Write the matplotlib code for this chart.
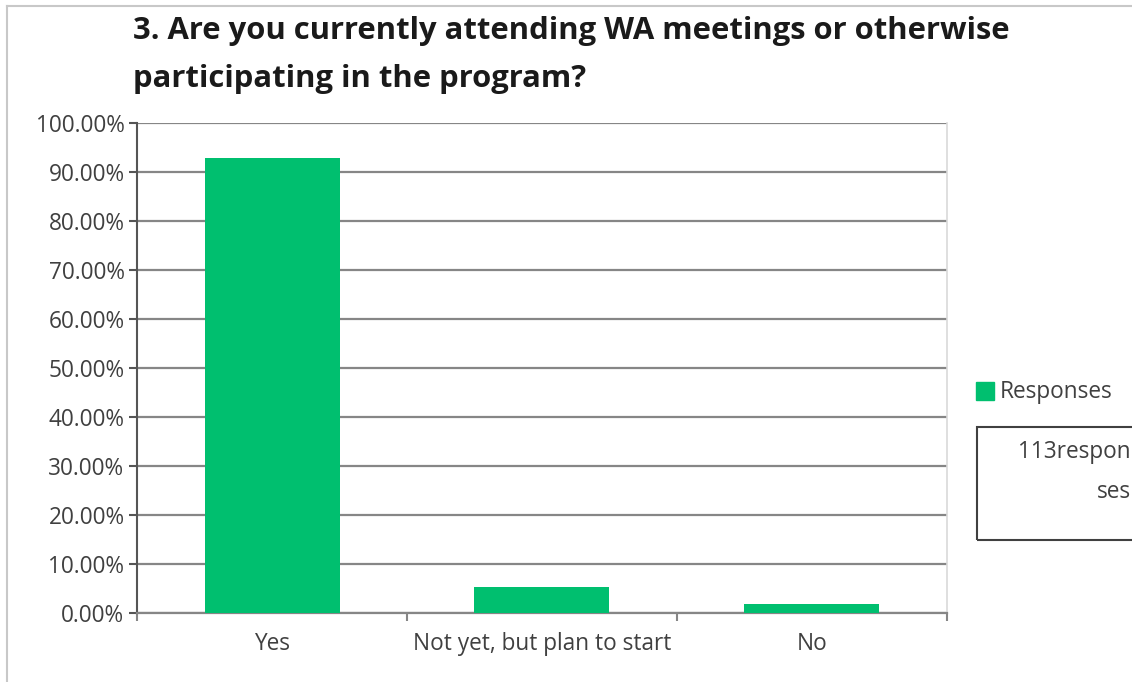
import matplotlib.pyplot as plt
from matplotlib.patches import Rectangle
from matplotlib.ticker import FixedLocator, NullFormatter

# Data
categories = ['Yes', 'Not yet, but plan to start', 'No']
responses = [92.92, 5.31, 1.77]   # percent of 113 responses
series_name = 'Responses'
n_responses = 113
title_lines = ['3. Are you currently attending WA meetings or otherwise',
               'participating in the program?']
yticks = [0, 10, 20, 30, 40, 50, 60, 70, 80, 90, 100]

W, H = 1132, 682
green = '#00bf6f'
grid_col = '#868686'
txt_col = '#404040'
fs = 16.3
plt.rcParams['font.family'] = ['Open Sans', 'DejaVu Sans']

fig = plt.figure(figsize=(W / 100, H / 100), dpi=100)

# thin frame round the whole chart
fig.add_artist(plt.Line2D([7 / W, 7 / W], [0, 1 - 6 / H], color='#c8c8c8', lw=1.5))
fig.add_artist(plt.Line2D([7 / W, 1], [1 - 6 / H, 1 - 6 / H], color='#c8c8c8', lw=1.5))

ax = fig.add_axes([137 / W, 69 / H, 810 / W, 490 / H])
x = list(range(len(categories)))
ax.bar(x, responses, width=0.5, color=green, zorder=3)

ax.set_xlim(-0.5, len(categories) - 0.5)
ax.set_ylim(0, 100)
ax.set_yticks(yticks)
ax.set_yticklabels([f'{v:.2f}%' for v in yticks])
ax.yaxis.grid(True, color=grid_col, lw=1.6, zorder=1)

# category labels centred, tick marks at the boundaries
ax.xaxis.set_major_locator(FixedLocator([i - 0.5 for i in range(len(categories) + 1)]))
ax.xaxis.set_major_formatter(NullFormatter())
ax.xaxis.set_minor_locator(FixedLocator(x))
ax.set_xticklabels(categories, minor=True)
ax.tick_params(axis='x', which='major', direction='out', length=6, width=1.5, color=grid_col)
ax.tick_params(axis='x', which='minor', length=0, pad=14, labelsize=fs, labelcolor=txt_col)
ax.tick_params(axis='y', direction='out', length=6, width=1.5, color='#555555',
               pad=3, labelsize=fs, labelcolor=txt_col)

ax.spines['top'].set_visible(False)
ax.spines['right'].set_color('#d9d9d9')
ax.spines['right'].set_linewidth(1.2)
ax.spines['left'].set_color('#555555')
ax.spines['left'].set_linewidth(1.5)
ax.spines['bottom'].set_color(grid_col)
ax.spines['bottom'].set_linewidth(1.6)

# title
fig.text(133 / W, 1 - 31 / H, title_lines[0], fontsize=22.3, fontweight='bold',
         color='#1a1a1a', va='center', ha='left')
fig.text(133 / W, 1 - 79 / H, title_lines[1], fontsize=22.3, fontweight='bold',
         color='#1a1a1a', va='center', ha='left')

# legend
fig.add_artist(Rectangle((976 / W, 1 - 400 / H), 18 / W, 18 / H, color=green,
                         transform=fig.transFigure))
fig.text(1000 / W, 1 - 392 / H, series_name, fontsize=fs, color=txt_col,
         va='center', ha='left')

# response count box (runs off the right edge)
fig.add_artist(Rectangle((977 / W, 1 - 540 / H), 200 / W, 113 / H, fill=False,
                         edgecolor='#404040', lw=1.5, transform=fig.transFigure))
count_txt = f'{n_responses}responses'
fig.text(1131 / W, 1 - 452 / H, count_txt[:9], fontsize=fs, color=txt_col,
         va='center', ha='right')
fig.text(1131 / W, 1 - 492 / H, count_txt[9:], fontsize=fs, color=txt_col,
         va='center', ha='right')

fig.savefig('out.png', dpi=100)
